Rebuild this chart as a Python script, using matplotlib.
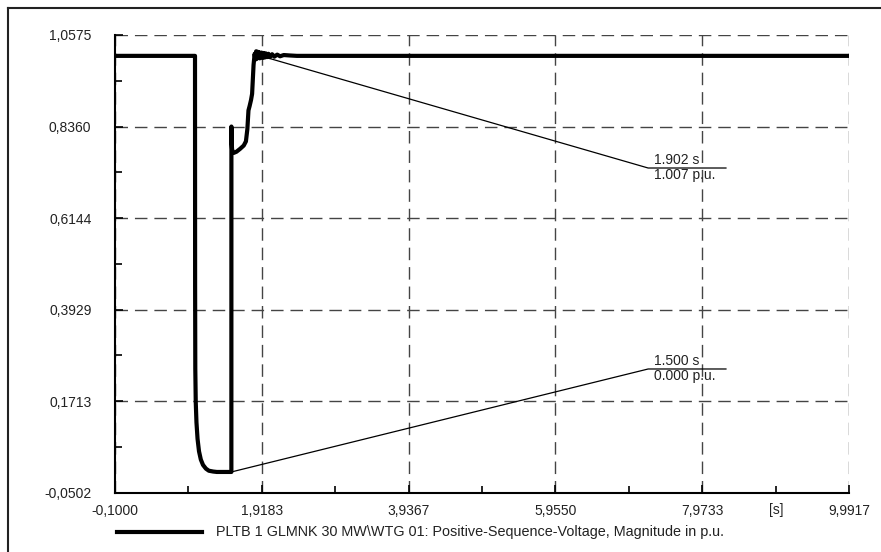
import numpy as np
import matplotlib
matplotlib.use('Agg')
import matplotlib.pyplot as plt
from matplotlib.lines import Line2D
from matplotlib.ticker import FixedLocator

plt.rcParams['font.family'] = ['Liberation Sans', 'DejaVu Sans']
plt.rcParams['font.size'] = 10

# ── Simulated positive-sequence voltage (p.u.) at WTG 01 ─────────────
t_pre = [-0.1, 1.0]
u_pre = [1.007, 1.007]

# fault at 1.0 s, voltage collapses
t_fault = [1.0015, 1.004, 1.010, 1.020, 1.035, 1.055, 1.080, 1.110,
           1.150, 1.190, 1.250, 1.300, 1.500]
u_fault = [0.450, 0.250, 0.170, 0.120, 0.080, 0.050, 0.030, 0.017,
           0.008, 0.003, 0.001, 0.000, 0.000]

# clearing at 1.5 s, recovery with oscillation
t_rec = [1.5005, 1.503, 1.510, 1.530, 1.570, 1.620, 1.670, 1.700,
         1.720, 1.735, 1.750, 1.770, 1.785, 1.795, 1.805, 1.820,
         1.830, 1.840, 1.850, 1.860, 1.870, 1.880, 1.890, 1.902,
         1.915, 1.930, 1.945, 1.960, 1.975, 1.990, 2.010, 2.030,
         2.060, 2.090, 2.130, 2.170, 2.220, 2.300, 2.400, 9.9917]
u_rec = [0.836, 0.800, 0.780, 0.772, 0.775, 0.782, 0.790, 0.800,
         0.830, 0.875, 0.885, 0.900, 0.915, 0.950, 0.985, 1.012,
         0.998, 1.018, 1.000, 1.017, 1.002, 1.016, 1.001, 1.007,
         1.015, 1.002, 1.014, 1.003, 1.013, 1.004, 1.012, 1.004,
         1.011, 1.005, 1.010, 1.006, 1.009, 1.008, 1.007, 1.007]

time = np.array(t_pre + t_fault + t_rec)
volt = np.array(u_pre + u_fault + u_rec)

# cursor markers (time s, voltage p.u.) and where their labels sit
markers_t = [1.902, 1.500]
markers_u = [1.007, 0.000]
label_y = [0.7356, 0.2492]
label_x0, label_x1 = 7.23, 8.30

x_ticks = [-0.1000, 1.9183, 3.9367, 5.9550, 7.9733, 9.9917]
y_ticks = [-0.0502, 0.1713, 0.3929, 0.6144, 0.8360, 1.0575]
legend_text = 'PLTB 1 GLMNK 30 MW\\WTG 01: Positive-Sequence-Voltage, Magnitude in p.u.'

fig = plt.figure(figsize=(8.81, 5.52), dpi=100)
ax = fig.add_axes([115/881, 1 - 492.7/552, 734/881, 457.7/552])

ax.plot(time, volt, color='black', lw=3.0, solid_joinstyle='round', zorder=3)

# cursor leader lines + text
for mt, mu, ly in zip(markers_t, markers_u, label_y):
    ax.plot([mt, label_x0, label_x1], [mu, ly, ly], color='black', lw=0.9, zorder=4)
    ax.text(label_x0 + 0.08, ly + 0.003, f'{mt:.3f} s', ha='left', va='bottom',
            fontsize=10, color='#222')
    ax.text(label_x0 + 0.08, ly - 0.001, f'{mu:.3f} p.u.', ha='left', va='top',
            fontsize=10, color='#222')

ax.set_xlim(x_ticks[0], x_ticks[-1])
ax.set_ylim(y_ticks[0], y_ticks[-1])
ax.set_xticks(x_ticks)
ax.set_yticks(y_ticks)
ax.set_xticklabels([f'{v:.4f}'.replace('.', ',') for v in x_ticks])
ax.set_yticklabels([f'{v:.4f}'.replace('.', ',') for v in y_ticks])
ax.xaxis.set_minor_locator(FixedLocator([(a + b) / 2 for a, b in zip(x_ticks[:-1], x_ticks[1:])]))
ax.yaxis.set_minor_locator(FixedLocator([(a + b) / 2 for a, b in zip(y_ticks[:-1], y_ticks[1:])]))
ax.tick_params(which='major', direction='in', length=6, width=1.2, colors='black',
               labelcolor='#222', labelsize=10)
ax.tick_params(axis='y', which='major', pad=17)
ax.tick_params(axis='x', which='major', pad=8)
ax.tick_params(which='minor', direction='in', length=5, width=1.2, colors='black')

ax.grid(True, which='major', color='#444', lw=1.0, ls=(0, (9, 5)), zorder=1)
for s in ['top', 'right']:
    ax.spines[s].set_visible(False)
for s in ['left', 'bottom']:
    ax.spines[s].set_linewidth(1.5)
    ax.spines[s].set_zorder(5)

# unit label on the time axis
ax.text(8.99, y_ticks[0] - 10 / 413.2, '[s]', ha='center', va='top',
        fontsize=10, color='#222')

# legend row under the plot
fig.add_artist(Line2D([117/881, 202/881], [1 - 532/552] * 2, color='black', lw=3.0))
fig.text(216/881, 1 - 532/552, legend_text, ha='left', va='center', fontsize=10.4, color='#222')

# page frame
fig.add_artist(Line2D([8/881, 8/881], [0, 1 - 8/552], color='#222', lw=1.5))
fig.add_artist(Line2D([8/881, 1], [1 - 8/552] * 2, color='#222', lw=1.5))

fig.savefig('out.png', dpi=100)
